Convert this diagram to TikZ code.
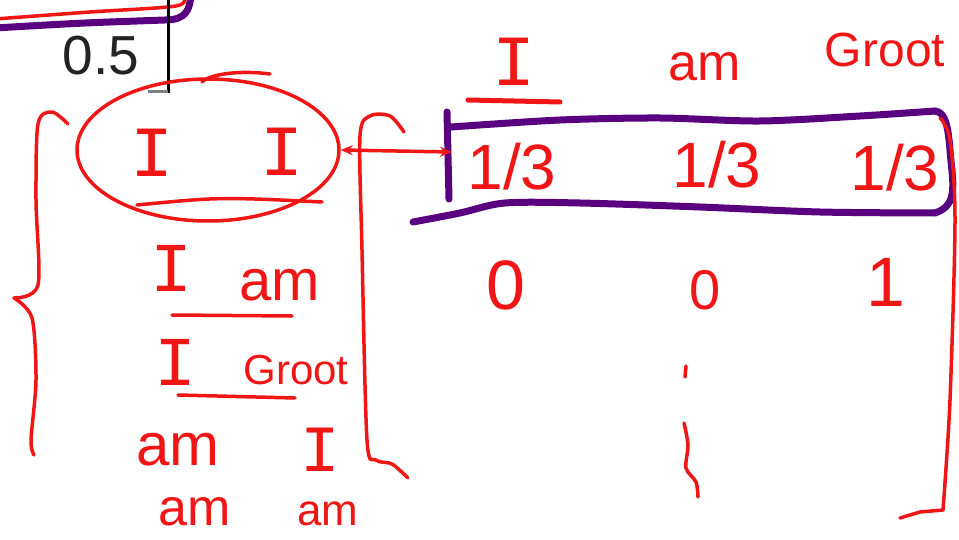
\documentclass[tikz,border=0pt]{standalone}
\usepackage{fontspec}
\setmainfont{Liberation Sans}
\newfontfamily\serifI{Liberation Mono}
\usetikzlibrary{shapes.geometric,arrows.meta}
\definecolor{inkred}{RGB}{240,22,22}
\definecolor{inkpurple}{RGB}{88,0,128}
\definecolor{greytext}{RGB}{35,35,35}
\begin{document}
\begin{tikzpicture}[x=1pt,y=-1pt,
  redline/.style={draw=inkred,line width=3.5pt,line cap=round,line join=round},
  purpleline/.style={draw=inkpurple,line width=7pt,line cap=round,line join=round},
  hand/.style={text=inkred,inner sep=0pt,font=\fontsize{#1}{#1}\selectfont},
  hand/.default=58,
  handI/.style={text=inkred,inner sep=0pt,font=\serifI\fontsize{#1}{#1}\selectfont},
  handI/.default=68]
\useasboundingbox (0,0) rectangle (959,540);
\fill[white] (0,0) rectangle (959,540);

% top-left leftovers
\draw[redline] plot[smooth] coordinates {(-5,19) (90,12) (176,6) (184,-4)};
\draw[purpleline] (-5,28) .. controls (80,23) .. (165,20) .. controls (186,20) and (190,10) .. (191,-6);
\draw[black,line width=3pt] (168,-2) -- (168,93);
\draw[gray,line width=3pt] (148,92) -- (168,92);
\node[text=greytext,inner sep=0pt,font=\fontsize{55}{55}\selectfont] (val) at (101,56) {0.5};

% circled pair
\node[ellipse,draw=inkred,line width=3.5pt,minimum width=262pt,minimum height=142pt] (pair) at (208,150) {};
\draw[redline] (202,82) .. controls (210,74) and (240,70) .. (270,74);
\node[handI=72] (i1) at (152,153) {I};
\node[handI=72] (i2) at (282,152) {I};
\draw[redline] (137,205) .. controls (220,197) .. (322,202);

% left brace
\draw[redline] plot[smooth] coordinates {(68,124) (52,112) (38,124) (36,200) (38,285) (14,298)};
\draw[redline] plot[smooth] coordinates {(14,298) (32,318) (36,380) (31,440) (34,455)};

% middle bracket
\draw[redline] plot[smooth] coordinates {(404,132) (390,116) (370,116) (360,136) (362,250) (367,440) (376,460) (392,464) (408,478)};

% list of pairs
\node[handI=70] (l1a) at (172,268) {I};
\node[hand=58] (l1b) at (280,285) {am};
\draw[redline] (172,315) -- (292,316);
\node[handI=70] (l2a) at (176,362) {I};
\node[hand=42] (l2b) at (296,370) {Groot};
\draw[redline] (178,395) -- (295,398);
\node[hand=60] (l3a) at (178,450) {am};
\node[handI=66] (l3b) at (320,450) {I};
\node[hand=52] (l4a) at (195,512) {am};
\node[hand=44] (l4b) at (328,514) {am};

% purple box
\draw[purpleline] (447,112) -- (449,199);
\draw[purpleline] plot[smooth] coordinates {(451,127) (560,120) (660,118) (760,121) (860,116) (935,111)};
\draw[purpleline] (935,111) .. controls (945,112) and (948,125) .. (950,150) .. controls (952,180) and (960,205) .. (935,213);
\draw[purpleline] plot[smooth] coordinates {(935,213) (820,212) (700,207) (580,203) (505,203) (460,213) (413,222)};
\coordinate (boxleft) at (452,152);
\draw[redline,{Stealth[length=12pt,width=10pt]}-{Stealth[length=12pt,width=10pt]}] (pair.east) -- (boxleft);

% right bracket
\draw[redline] plot[smooth] coordinates {(940,118) (950,140) (955,220) (950,400) (943,510)};
\draw[redline] (943,510) -- (920,512) -- (900,518);

% column headers
\node[handI=72] (hI) at (514,62) {I};
\draw[draw=inkred,line width=5pt,line cap=round] (468,100) -- (560,102);
\node[hand=52] (ham) at (705,67) {am};
\node[hand=48] (hgroot) at (885,50) {Groot};

% probabilities
\node[hand=64] (p1) at (512,167) {1/3};
\node[hand=64] (p2) at (717,165) {1/3};
\node[hand=64] (p3) at (895,168) {1/3};
\node[hand=70] (c1) at (506,285) {0};
\node[hand=56] (c2) at (705,290) {0};
\node[hand=70] (c3) at (886,282) {1};

% vertical dots
\draw[redline] (686,366) -- (685,377);
\draw[redline] plot[smooth] coordinates {(684,423) (688,445) (686,468) (696,482) (698,497)};
\end{tikzpicture}
\end{document}
